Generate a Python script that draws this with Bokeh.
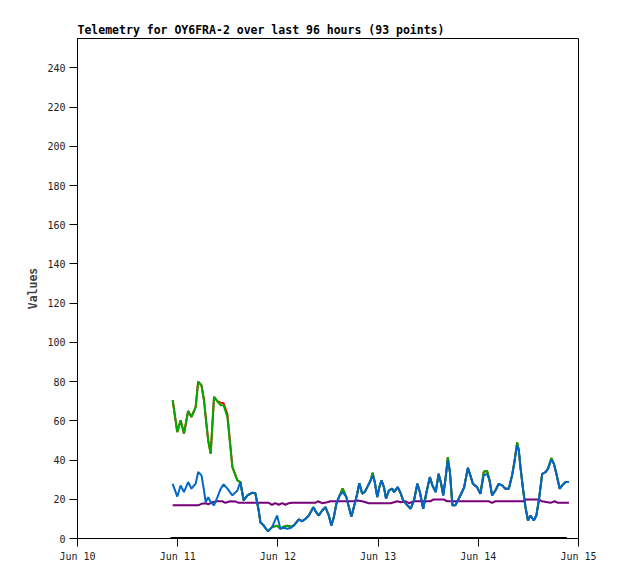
from datetime import datetime, timedelta
from bokeh.plotting import figure
from bokeh.models import Range1d, FixedTicker
from bokeh.embed import file_html
from bokeh.resources import INLINE

BASE = datetime(2024, 6, 10)

# hours since Jun 10 00:00 for the telemetry samples
hours = [22.8, 23.9, 24.7, 25.5, 26.5, 27.3, 28.3, 28.9, 29.7, 30.3,
         30.7, 31.3, 31.9, 32.7, 33.5, 34.3, 35.0, 35.9, 37.1, 38.3,
         39.0, 39.8, 40.7, 41.8, 42.6, 43.4, 43.8, 44.6, 45.6, 46.6,
         47.8, 48.6, 49.4, 50.2, 51.0, 51.8, 53.0, 53.8, 54.6, 55.4,
         56.5, 57.0, 57.8, 58.6, 59.4, 60.2, 60.8, 61.4, 62.0, 62.8,
         63.5, 64.4, 65.0, 65.6, 66.2, 67.0, 67.5, 68.2, 68.8, 69.4,
         70.2, 70.7, 71.2, 71.8, 72.3, 72.8, 73.4, 73.9, 74.6, 75.4,
         75.8, 76.7, 77.4, 78.0, 78.8, 79.8, 80.6, 81.4, 82.0, 82.8,
         83.6, 84.4, 85.0, 85.8, 86.5, 87.1, 87.6, 88.1, 88.7, 89.2,
         89.8, 90.5, 91.3, 92.1, 92.6, 93.5, 94.1, 94.7, 95.7, 96.5,
         97.3, 98.1, 98.7, 99.3, 100.1, 100.9, 101.7, 102.5, 103.3, 104.1,
         104.7, 105.3, 105.7, 106.1, 106.7, 107.3, 107.9, 108.5, 109.3, 109.9,
         110.5, 111.3, 112.1, 112.7, 113.5, 114.1, 114.7, 115.5, 116.1, 116.9,
         117.7]

blue_vals = [27.9, 21.4, 27.0, 23.7, 28.8, 25.4, 28.0, 33.9, 32.2, 24.5,
             18.5, 21.0, 18.5, 16.9, 21.0, 25.4, 27.6, 25.4, 22.0, 24.5,
             28.8, 19.4, 22.0, 23.3, 23.1, 14.3, 8.3, 6.6, 3.7, 5.8,
             11.7, 5.0, 5.5, 5.0, 5.3, 6.6, 9.7, 8.8, 10.0, 11.7,
             16.0, 14.0, 11.7, 14.3, 16.0, 11.7, 6.6, 10.9, 17.7, 22.0,
             23.7, 21.1, 16.0, 11.2, 16.0, 22.8, 28.2, 22.8, 23.7, 26.2,
             29.6, 32.2, 28.8, 21.1, 26.2, 29.6, 26.2, 20.3, 24.5, 25.4,
             23.7, 26.2, 23.1, 19.4, 17.4, 15.2, 19.4, 27.9, 23.7, 15.2,
             23.7, 31.3, 27.1, 23.7, 33.0, 27.9, 22.0, 29.6, 39.8, 33.9,
             16.9, 16.9, 20.3, 23.7, 26.0, 36.0, 32.2, 27.9, 26.2, 22.8,
             32.2, 33.0, 29.6, 22.0, 24.5, 27.9, 27.1, 25.4, 25.4, 32.2,
             39.8, 47.5, 45.0, 36.4, 25.4, 16.0, 9.2, 11.7, 9.2, 11.7,
             19.4, 33.0, 33.9, 35.6, 40.2, 38.1, 33.0, 25.4, 27.1, 28.8,
             28.8]

green_vals = [70.5, 54.3, 60.3, 53.5, 65.0, 62.0, 67.0, 80.0, 78.1, 70.5,
              62.0, 50.0, 43.3, 72.2, 70.0, 67.9, 67.9, 62.0, 36.4, 29.6,
              28.8, 19.4, 22.0, 23.3, 23.1, 14.3, 8.3, 6.6, 3.7, 5.8,
              6.5, 5.0, 6.0, 6.5, 6.0, 6.6, 9.7, 8.8, 10.0, 11.7,
              16.0, 14.0, 11.7, 14.3, 16.0, 11.7, 6.6, 10.9, 17.7, 22.0,
              25.5, 21.1, 16.0, 11.2, 16.0, 22.8, 28.2, 22.8, 23.7, 26.2,
              29.6, 33.5, 28.8, 21.1, 26.2, 29.6, 26.2, 20.3, 24.5, 25.4,
              23.7, 26.2, 23.1, 19.4, 17.4, 15.2, 19.4, 27.9, 23.7, 15.2,
              23.7, 31.3, 27.1, 23.7, 33.0, 27.9, 22.0, 29.6, 41.5, 33.9,
              16.9, 16.9, 20.3, 23.7, 26.0, 36.0, 32.2, 27.9, 26.2, 22.8,
              34.0, 34.5, 29.6, 22.0, 24.5, 27.9, 27.1, 25.4, 25.4, 32.2,
              39.8, 49.0, 45.0, 36.4, 25.4, 16.0, 9.2, 11.7, 9.2, 11.7,
              19.4, 33.0, 33.9, 35.6, 41.0, 38.1, 33.0, 25.4, 27.1, 28.8,
              28.8]

red_vals = [70.5, 54.3, 60.3, 53.5, 65.0, 62.0, 67.0, 80.0, 78.1, 70.5,
            62.0, 50.0, 43.3, 72.2, 70.0, 69.3, 69.0, 63.5, 36.4, 29.6,
            28.8, 19.4, 22.0, 23.3, 23.1, 14.3, 8.3, 6.6, 3.7, 5.8,
            6.5, 5.0, 6.0, 6.5, 6.0, 6.6, 9.7, 8.8, 10.0, 11.7,
            16.0, 14.0, 11.7, 14.3, 16.0, 11.7, 6.6, 10.9, 17.7, 22.0,
            25.5, 21.1, 16.0, 11.2, 16.0, 22.8, 28.2, 22.8, 23.7, 26.2,
            29.6, 33.5, 28.8, 21.1, 26.2, 29.6, 26.2, 20.3, 24.5, 25.4,
            23.7, 26.2, 23.1, 19.4, 17.4, 15.2, 19.4, 27.9, 23.7, 15.2,
            23.7, 31.3, 27.1, 23.7, 33.0, 27.9, 22.0, 29.6, 41.5, 33.9,
            16.9, 16.9, 20.3, 23.7, 26.0, 36.0, 32.2, 27.9, 26.2, 22.8,
            34.0, 34.5, 29.6, 22.0, 24.5, 27.9, 27.1, 25.4, 25.4, 32.2,
            39.8, 49.0, 45.0, 36.4, 25.4, 16.0, 9.2, 11.7, 9.2, 11.7,
            19.4, 33.0, 33.9, 35.6, 41.0, 38.1, 33.0, 25.4, 27.1, 28.8,
            28.8]

purple_hours = [22.8, 28.9, 29.7, 30.7, 31.3, 32.3, 33.5, 34.7, 35.4, 36.6,
                37.8, 38.6, 45.8, 46.6, 47.4, 48.2, 49.0, 49.8, 50.6, 51.4,
                57.0, 57.6, 58.6, 59.8, 60.6, 66.2, 67.0, 68.2, 69.0, 69.8,
                75.0, 76.6, 77.4, 78.6, 79.4, 80.6, 84.5, 85.3, 87.7, 88.5,
                98.5, 99.3, 100.1, 106.9, 107.5, 110.5, 111.2, 113.3, 114.3, 115.1,
                117.7]
purple_vals = [16.9, 16.9, 17.7, 18.0, 17.4, 18.5, 19.0, 19.0, 18.2, 19.0,
               18.9, 18.2, 18.2, 17.2, 18.0, 17.2, 18.0, 17.2, 18.0, 18.2,
               18.2, 19.0, 18.0, 18.5, 19.0, 19.0, 19.4, 19.0, 18.5, 18.0,
               18.0, 19.0, 18.5, 19.0, 18.0, 19.0, 19.0, 19.9, 19.9, 19.0,
               19.0, 18.2, 19.0, 19.0, 19.9, 19.9, 19.0, 18.2, 19.0, 18.2,
               18.2]

black_hours = [22.3, 117.2]
black_vals = [0.0, 0.0]

day_offsets = [0, 1, 2, 3, 4, 5]
day_labels = ["Jun 10", "Jun 11", "Jun 12", "Jun 13", "Jun 14", "Jun 15"]
y_ticks = [0, 20, 40, 60, 80, 100, 120, 140, 160, 180, 200, 220, 240]

TITLE = "Telemetry for OY6FRA-2 over last 96 hours (93 points)"


def to_dt(hs):
    return [BASE + timedelta(hours=h) for h in hs]


def ms(d):
    return (d - datetime(1970, 1, 1)).total_seconds() * 1000.0


day_ms = [ms(BASE + timedelta(days=d)) for d in day_offsets]

p = figure(width=610, height=571, x_axis_type="datetime",
           output_backend="svg", toolbar_location=None,
           x_range=Range1d(day_ms[0], day_ms[-1]), y_range=Range1d(0, 255),
           min_border_left=77, min_border_right=32,
           min_border_top=38, min_border_bottom=33,
           title=TITLE)

p.title.align = "left"
p.title.text_font = "DejaVu Sans Mono"
p.title.text_font_size = "11.5px"
p.title.text_font_style = "bold"
p.title.text_color = "black"
p.title.standoff = 4

p.xgrid.visible = False
p.ygrid.visible = False
p.outline_line_color = "black"
p.outline_line_width = 1
p.background_fill_color = "white"
p.border_fill_color = "white"

xa = p.xaxis[0]
xa.ticker = FixedTicker(ticks=day_ms)
xa.major_label_overrides = {t: lab for t, lab in zip(day_ms, day_labels)}
ya = p.yaxis[0]
ya.ticker = FixedTicker(ticks=y_ticks)
ya.axis_label = "Values"
ya.axis_label_text_font = "DejaVu Sans Mono"
ya.axis_label_text_font_style = "bold"
ya.axis_label_text_font_size = "11.5px"
ya.axis_label_standoff = 4

for ax in (xa, ya):
    ax.axis_line_color = "black"
    ax.major_tick_line_color = "black"
    ax.minor_tick_line_color = None
    ax.major_tick_out = 8
    ax.major_tick_in = 0
    ax.major_label_text_font = "DejaVu Sans Mono"
    ax.major_label_text_font_size = "10px"
    ax.major_label_text_color = "#222222"
    ax.major_label_standoff = 4

t_main = to_dt(hours)
p.line(to_dt(black_hours), black_vals, line_color="black", line_width=3)
p.line(t_main, red_vals, line_color="#ff0000", line_width=2)
p.line(t_main, green_vals, line_color="#00aa00", line_width=2)
p.line(to_dt(purple_hours), purple_vals, line_color="#780078", line_width=2)
p.line(t_main, blue_vals, line_color="#0066cc", line_width=2)

open("out.html", "w").write(file_html(p, INLINE))
